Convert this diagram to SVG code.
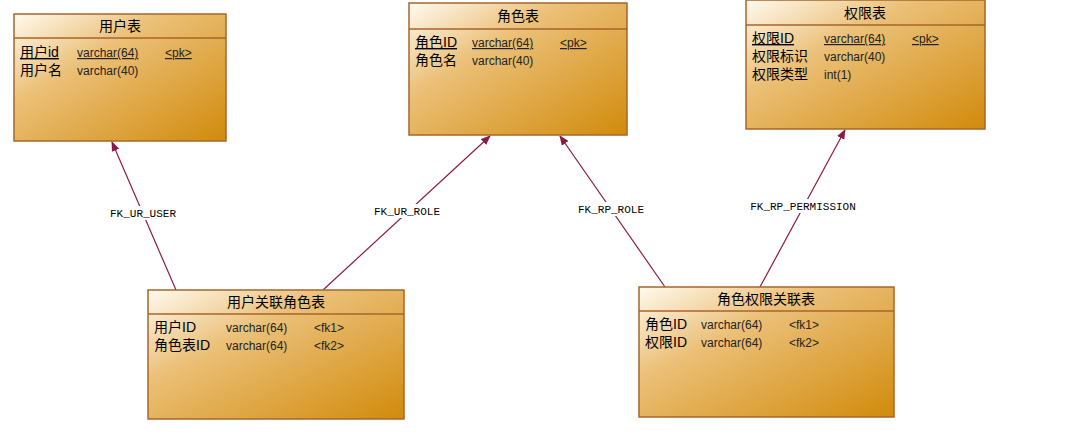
<svg xmlns="http://www.w3.org/2000/svg" width="1080" height="435" viewBox="0 0 1080 435">
<style>
.box{fill:url(#g);stroke:#a8652a;stroke-width:1.5}
.hl{stroke:#a8652a;stroke-width:1.5}
.t{font-family:"Liberation Sans","Noto Sans CJK SC",sans-serif;font-size:14px;fill:#000}
.c{font-family:"Liberation Sans","Noto Sans CJK SC",sans-serif;font-size:12px;fill:#222}
.u{text-decoration:underline}
.l{font-family:"Liberation Mono",monospace;font-size:11px;fill:#000;text-anchor:middle}
.cn{stroke:#8b1a4a;stroke-width:1.2;fill:none;marker-end:url(#a)}
</style>
<defs>
<linearGradient id="g" x1="0" y1="0" x2="1" y2="1">
<stop offset="0" stop-color="#fffaf0"/><stop offset="0.35" stop-color="#ebc078"/><stop offset="1" stop-color="#d18b0c"/>
</linearGradient>
<marker id="a" markerWidth="10" markerHeight="10" refX="9" refY="4" orient="auto" markerUnits="userSpaceOnUse"><path d="M0,0 L10,4 L0,8 z" fill="#8b1a4a"/></marker>
</defs>
<rect width="1080" height="435" fill="#fff"/>
<g id="connectors">
<line class="cn" x1="176" y1="290" x2="112" y2="142"/>
<line class="cn" x1="323" y1="290" x2="490" y2="136"/>
<line class="cn" x1="665" y1="287" x2="560" y2="136"/>
<line class="cn" x1="760" y1="287" x2="845" y2="130"/>
<rect x="100" y="206" width="86" height="14" fill="#fff"/><text class="l" x="143" y="217">FK_UR_USER</text>
<rect x="364" y="204" width="86" height="14" fill="#fff"/><text class="l" x="407" y="215">FK_UR_ROLE</text>
<rect x="568" y="202" width="86" height="14" fill="#fff"/><text class="l" x="611" y="213">FK_RP_ROLE</text>
<rect x="739" y="199" width="128" height="14" fill="#fff"/><text class="l" x="803" y="210">FK_RP_PERMISSION</text>
</g>
<g id="user">
<rect class="box" x="14" y="14" width="212" height="127"/><line class="hl" x1="14" y1="38" x2="226" y2="38"/>
<text class="t" x="120" y="31" text-anchor="middle">用户表</text>
<text class="t u" x="20" y="57">用户id</text><text class="c u" x="77" y="57">varchar(64)</text><text class="c u" x="165" y="57">&lt;pk&gt;</text>
<text class="t" x="20" y="75">用户名</text><text class="c" x="77" y="75">varchar(40)</text>
</g>
<g id="role">
<rect class="box" x="409" y="3" width="218" height="132"/><line class="hl" x1="409" y1="29" x2="627" y2="29"/>
<text class="t" x="518" y="21" text-anchor="middle">角色表</text>
<text class="t u" x="415" y="47">角色ID</text><text class="c u" x="472" y="47">varchar(64)</text><text class="c u" x="560" y="47">&lt;pk&gt;</text>
<text class="t" x="415" y="65">角色名</text><text class="c" x="472" y="65">varchar(40)</text>
</g>
<g id="perm">
<rect class="box" x="746" y="0" width="239" height="129"/><line class="hl" x1="746" y1="25" x2="985" y2="25"/>
<text class="t" x="865" y="18" text-anchor="middle">权限表</text>
<text class="t u" x="752" y="43">权限ID</text><text class="c u" x="824" y="43">varchar(64)</text><text class="c u" x="912" y="43">&lt;pk&gt;</text>
<text class="t" x="752" y="61">权限标识</text><text class="c" x="824" y="61">varchar(40)</text>
<text class="t" x="752" y="79">权限类型</text><text class="c" x="824" y="79">int(1)</text>
</g>
<g id="userrole">
<rect class="box" x="148" y="290" width="256" height="129"/><line class="hl" x1="148" y1="314" x2="404" y2="314"/>
<text class="t" x="276" y="307" text-anchor="middle">用户关联角色表</text>
<text class="t" x="154" y="332">用户ID</text><text class="c" x="226" y="332">varchar(64)</text><text class="c" x="314" y="332">&lt;fk1&gt;</text>
<text class="t" x="154" y="350">角色表ID</text><text class="c" x="226" y="350">varchar(64)</text><text class="c" x="314" y="350">&lt;fk2&gt;</text>
</g>
<g id="roleperm">
<rect class="box" x="639" y="287" width="255" height="130"/><line class="hl" x1="639" y1="311" x2="894" y2="311"/>
<text class="t" x="766" y="304" text-anchor="middle">角色权限关联表</text>
<text class="t" x="645" y="329">角色ID</text><text class="c" x="701" y="329">varchar(64)</text><text class="c" x="789" y="329">&lt;fk1&gt;</text>
<text class="t" x="645" y="347">权限ID</text><text class="c" x="701" y="347">varchar(64)</text><text class="c" x="789" y="347">&lt;fk2&gt;</text>
</g>
</svg>
